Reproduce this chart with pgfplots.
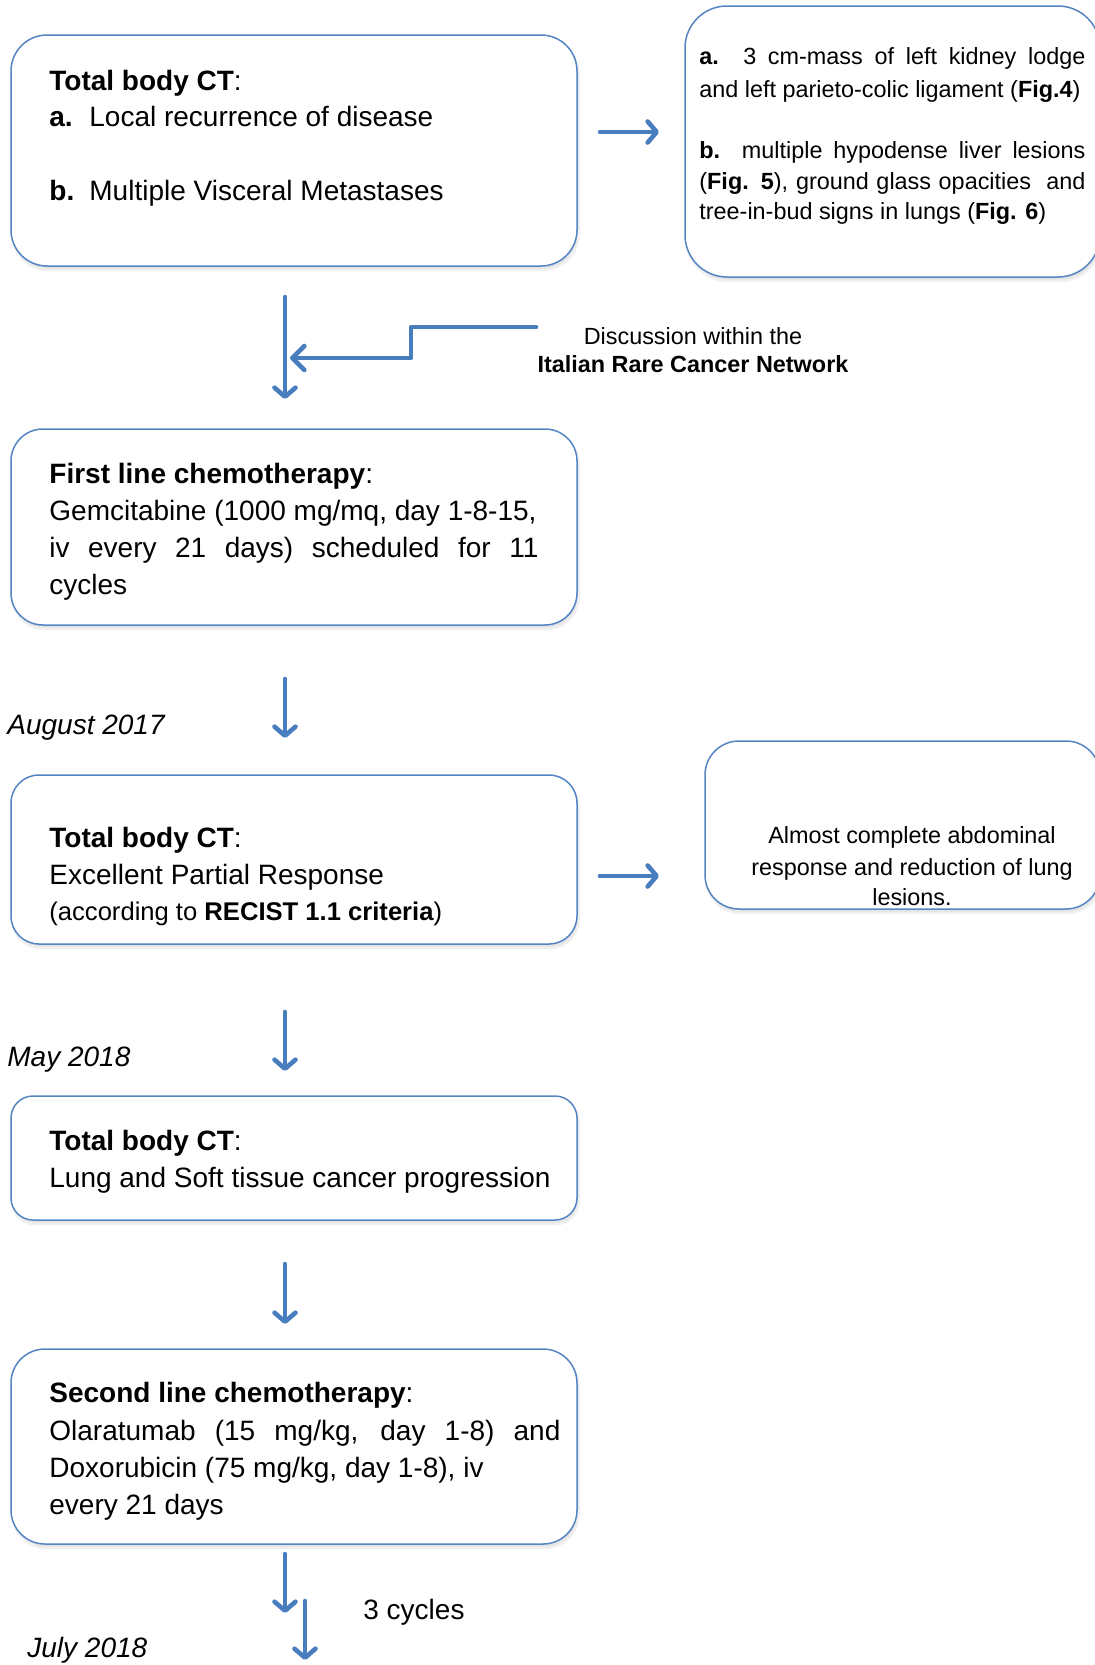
\documentclass[border=0pt]{standalone}
\usepackage{pgfplots}
\pgfplotsset{compat=1.18}
\usepackage{fontspec}
\setmainfont{Liberation Sans}
\usetikzlibrary{arrows.meta}
\definecolor{arr}{RGB}{72,125,190}
\definecolor{bord}{RGB}{84,133,194}
\newcommand{\fbig}{\fontsize{14}{17}\selectfont}
\newcommand{\fsmall}{\fontsize{11.7}{14}\selectfont}
\newcommand{\fmid}{\fontsize{12.8}{15}\selectfont}
% x1 y1 x2 y2 radius xmid
\newcommand{\rbox}[6]{%
\addplot[no marks, draw=black!6, fill=black!10, line width=1.2pt, rounded corners=#5, shift={(0.8pt,-2pt)}] coordinates {(#6,#2) (#3,#2) (#3,#4) (#1,#4) (#1,#2) (#6,#2)};
\addplot[no marks, draw=bord, fill=white, line width=0.75pt, rounded corners=#5] coordinates {(#6,#2) (#3,#2) (#3,#4) (#1,#4) (#1,#2) (#6,#2)};
}
\tikzset{myarr/.style={no marks, draw=arr, line width=2.3pt, line cap=round, line join=round, -{Straight Barb[length=4.5pt,width=10.5pt,line cap=round,line join=round]}}}
\begin{document}
\begin{tikzpicture}
\begin{axis}[name=ax, width=547pt, height=832.5pt, scale only axis,
  xmin=0, xmax=1094, ymin=0, ymax=1665, y dir=reverse, hide axis, clip=false]
% boxes
\rbox{11}{35}{577}{266}{18pt}{294}
\rbox{685}{6}{1100}{277}{21pt}{890}
\rbox{11}{429}{577}{625}{16pt}{294}
\rbox{11}{775}{577}{944}{14pt}{294}
\rbox{705}{741}{1100}{909}{17pt}{900}
\rbox{11}{1096}{577}{1220}{11pt}{294}
\rbox{11}{1349}{577}{1544}{17pt}{294}
% arrows
\addplot[myarr] coordinates {(600,132) (659,132)};
\addplot[myarr] coordinates {(285,297) (285,399)};
\addplot[myarr, -{Straight Barb[length=6pt,width=12pt,line cap=round,line join=round]}] coordinates {(536,327) (411,327) (411,358) (290,358)};
\addplot[myarr] coordinates {(285,679) (285,738)};
\addplot[myarr] coordinates {(600,876) (659,876)};
\addplot[myarr] coordinates {(285,1012) (285,1071)};
\addplot[myarr] coordinates {(285,1264) (285,1324)};
\addplot[myarr] coordinates {(285,1554) (285,1613)};
\addplot[myarr] coordinates {(305,1601) (305,1660)};
% box 1
\node[anchor=mid west, inner sep=0, font=\fbig] at (axis cs:49,85) {\textbf{Total body CT}:};
\node[anchor=mid west, inner sep=0, font=\fbig] at (axis cs:49,121) {\textbf{a.}};
\node[anchor=mid west, inner sep=0, font=\fbig] at (axis cs:89,121) {Local recurrence of disease};
\node[anchor=mid west, inner sep=0, font=\fbig] at (axis cs:49,195) {\textbf{b.}};
\node[anchor=mid west, inner sep=0, font=\fbig] at (axis cs:89,195) {Multiple Visceral Metastases};
% top right box
\node[anchor=mid west, inner sep=0, font=\fsmall] at (axis cs:699,59) {\makebox[193pt][s]{\textbf{a.} 3 cm-mass of left kidney lodge}};
\node[anchor=mid west, inner sep=0, font=\fsmall] at (axis cs:699,92) {and left parieto-colic ligament (\textbf{Fig.4})};
\node[anchor=mid west, inner sep=0, font=\fsmall] at (axis cs:699,153) {\makebox[193pt][s]{\textbf{b.} multiple hypodense liver lesions}};
\node[anchor=mid west, inner sep=0, font=\fsmall] at (axis cs:699,184) {\makebox[193pt][s]{(\textbf{Fig. 5}), ground glass opacities\ \ and}};
\node[anchor=mid west, inner sep=0, font=\fsmall] at (axis cs:699,214) {tree-in-bud signs in lungs (\textbf{Fig. 6})};
% discussion
\node[anchor=mid, inner sep=0, font=\fsmall] at (axis cs:693,339) {Discussion within the};
\node[anchor=mid, inner sep=0, font=\fsmall] at (axis cs:693,367) {\textbf{Italian Rare Cancer Network}};
% box 2
\node[anchor=mid west, inner sep=0, font=\fbig] at (axis cs:49,478) {\textbf{First line chemotherapy}:};
\node[anchor=mid west, inner sep=0, font=\fbig] at (axis cs:49,515) {Gemcitabine (1000 mg/mq, day 1-8-15,};
\node[anchor=mid west, inner sep=0, font=\fbig] at (axis cs:49,552) {\makebox[244.5pt][s]{iv every 21 days) scheduled for 11}};
\node[anchor=mid west, inner sep=0, font=\fbig] at (axis cs:49,589) {cycles};
% date
\node[anchor=mid west, inner sep=0, font=\fbig\itshape] at (axis cs:7,729) {August 2017};
% box 3
\node[anchor=mid west, inner sep=0, font=\fbig] at (axis cs:49,842) {\textbf{Total body CT}:};
\node[anchor=mid west, inner sep=0, font=\fbig] at (axis cs:49,879) {Excellent Partial Response};
\node[anchor=mid west, inner sep=0, font=\fmid] at (axis cs:49,915) {(according to \textbf{RECIST 1.1 criteria})};
% right box 3
\node[anchor=mid, inner sep=0, font=\fsmall] at (axis cs:912,838) {Almost complete abdominal};
\node[anchor=mid, inner sep=0, font=\fsmall] at (axis cs:912,870) {response and reduction of lung};
\node[anchor=mid, inner sep=0, font=\fsmall] at (axis cs:912,900) {lesions.};
% date
\node[anchor=mid west, inner sep=0, font=\fbig\itshape] at (axis cs:7,1061) {May 2018};
% box 4
\node[anchor=mid west, inner sep=0, font=\fbig] at (axis cs:49,1145) {\textbf{Total body CT}:};
\node[anchor=mid west, inner sep=0, font=\fbig] at (axis cs:49,1182) {Lung and Soft tissue cancer progression};
% box 5
\node[anchor=mid west, inner sep=0, font=\fbig] at (axis cs:49,1397) {\textbf{Second line chemotherapy}:};
\node[anchor=mid west, inner sep=0, font=\fbig] at (axis cs:49,1435) {\makebox[255.5pt][s]{Olaratumab (15 mg/kg, day 1-8) and}};
\node[anchor=mid west, inner sep=0, font=\fbig] at (axis cs:49,1472) {Doxorubicin (75 mg/kg, day 1-8), iv};
\node[anchor=mid west, inner sep=0, font=\fbig] at (axis cs:49,1509) {every 21 days};
% bottom
\node[anchor=mid west, inner sep=0, font=\fbig] at (axis cs:363,1614) {3 cycles};
\node[anchor=mid west, inner sep=0, font=\fbig\itshape] at (axis cs:27,1652) {July 2018};
\end{axis}
\pgfresetboundingbox
\path (ax.south west) rectangle (ax.north east);
\end{tikzpicture}
\end{document}
